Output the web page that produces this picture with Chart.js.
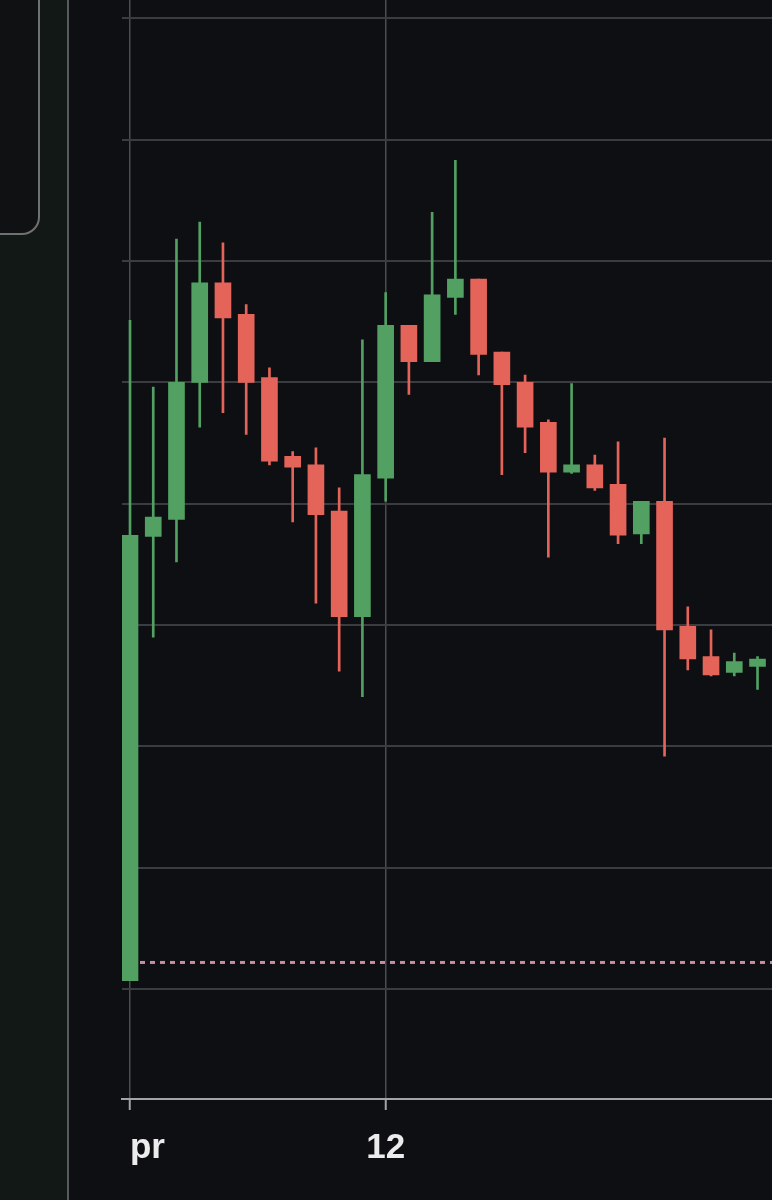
<!DOCTYPE html>
<html>
<head>
<meta charset="utf-8">
<script src="https://cdn.jsdelivr.net/npm/chart.js@4.4.1/dist/chart.umd.min.js"></script>
<style>
  html, body { margin: 0; padding: 0; width: 772px; height: 1200px; overflow: hidden; background: #0e0f13; }
  #side { position: absolute; left: 0; top: 0; width: 67px; height: 1200px; background: #121815; border-right: 2px solid #595a5c; }
  #box { position: absolute; left: -20px; top: -20px; width: 56px; height: 251px; background: #0f1113; border: 2px solid #707173; border-radius: 0 0 18px 0; }
  #wrap { position: absolute; left: 70px; top: 0; width: 751px; height: 1200px; }
</style>
</head>
<body>
<div id="side"><div id="box"></div></div>
<div id="wrap"><canvas id="chart" width="751" height="1200"></canvas></div>
<script>
/* global Chart */

// candle values, index 0..28 (the axis is cut on the right)
const opens = [10.07, 13.73, 13.87, 15.00, 15.82, 15.56, 15.04, 14.39, 14.32, 13.94, 13.07, 14.21, 15.47, 15.17, 15.70,
  15.85, 15.25, 15.00, 14.67, 14.26, 14.32, 14.16, 13.75, 14.02, 12.99, 12.74, 12.61, 12.66, 12.67];
const closes = [13.74, 13.89, 15.00, 15.82, 15.53, 15.00, 14.35, 14.30, 13.91, 13.07, 14.24, 15.47, 15.17, 15.72, 15.85,
  15.23, 14.98, 14.63, 14.26, 14.32, 14.13, 13.74, 14.02, 12.96, 12.72, 12.59, 12.70, 12.72, 12.75];
const highs = [15.51, 14.96, 16.18, 16.32, 16.15, 15.64, 15.12, 14.43, 14.46, 14.13, 15.35, 15.74, 15.47, 16.40, 16.83,
  15.85, 15.25, 15.06, 14.69, 14.99, 14.40, 14.51, 14.02, 14.54, 13.15, 12.96, 12.77, 12.74, 12.82];
const lows = [10.07, 12.90, 13.52, 14.63, 14.75, 14.57, 14.32, 13.85, 13.18, 12.62, 12.41, 14.02, 14.90, 15.17, 15.56,
  15.06, 14.24, 14.42, 13.56, 14.25, 14.11, 13.67, 13.67, 11.92, 12.63, 12.58, 12.58, 12.47, 12.60];

const tickLabels = { 0: 'pr', 11: '12' };
const priceLine = 10.22;

const UP = '#52a163';
const DOWN = '#e5645a';

const idx = opens.map((_, i) => i);
const colorOf = (i) => (closes[i] >= opens[i] ? UP : DOWN);

const labelTick = (v) => Object.prototype.hasOwnProperty.call(tickLabels, v);

new Chart(document.getElementById('chart').getContext('2d'), {
  type: 'bar',
  data: {
    datasets: [
      {
        type: 'line',
        data: [{ x: 0, y: priceLine }, { x: 32, y: priceLine }],
        borderColor: '#c98d9d',
        borderWidth: 3,
        borderDash: [5, 5],
        pointRadius: 0,
        order: 3
      },
      {
        data: idx.map((i) => ({ x: i, y: [lows[i], highs[i]] })),
        backgroundColor: idx.map(colorOf),
        barThickness: 2,
        grouped: false,
        order: 2
      },
      {
        data: idx.map((i) => ({ x: i, y: [opens[i], closes[i]] })),
        backgroundColor: idx.map(colorOf),
        barThickness: 16,
        grouped: false,
        order: 1
      }
    ]
  },
  options: {
    responsive: false,
    animation: false,
    layout: { padding: { left: 52, top: 0, right: 0, bottom: 14 } },
    plugins: { legend: { display: false }, tooltip: { enabled: false } },
    scales: {
      x: {
        type: 'linear',
        min: -0.344,
        max: 29.70,
        offset: false,
        border: { display: true, color: '#a3a4a6', width: 2 },
        grid: {
          offset: false,
          color: (c) => (labelTick(c.tick && c.tick.value) ? '#4b4c50' : 'rgba(0,0,0,0)'),
          tickColor: (c) => (labelTick(c.tick && c.tick.value) ? '#a3a4a6' : 'rgba(0,0,0,0)'),
          lineWidth: 1.5,
          tickLength: 11,
          tickWidth: 2
        },
        ticks: {
          stepSize: 1,
          includeBounds: false,
          autoSkip: false,
          maxRotation: 0,
          align: 'inner',
          padding: 17,
          color: '#ececec',
          font: { family: 'Liberation Sans', size: 35, weight: 'bold' },
          callback: (v) => tickLabels[v] || ''
        }
      },
      y: {
        min: 9.095,
        max: 18.15,
        border: { display: false },
        grid: { color: '#3b3c41', lineWidth: 2, drawTicks: false },
        ticks: { display: false, stepSize: 1, includeBounds: false }
      }
    }
  }
});
</script>
</body>
</html>
